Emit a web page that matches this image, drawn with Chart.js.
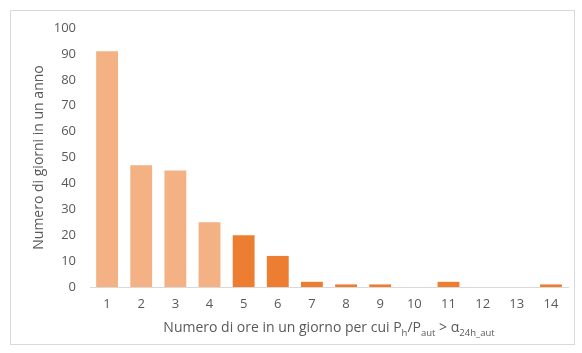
<!DOCTYPE html>
<html>
<head>
<meta charset="utf-8">
<script src="https://cdn.jsdelivr.net/npm/chart.js@4.4.0/dist/chart.umd.min.js"></script>
<style>
  body { margin: 0; background: #fff; }
  #wrap { width: 582px; height: 353px; position: relative; }
</style>
</head>
<body>
<div id="wrap"><canvas id="chart" width="582" height="353"></canvas></div>
<script>
// chart data
const categories = ['1', '2', '3', '4', '5', '6', '7', '8', '9', '10', '11', '12', '13', '14'];
const giorni = [91, 47, 45, 25, 20, 12, 2, 1, 1, 0, 2, 0, 0, 1];
const yTicks = [0, 10, 20, 30, 40, 50, 60, 70, 80, 90, 100];

const lightOrange = '#F4B183';
const darkOrange = '#ED7D31';
const textGray = '#595959';
const fontFamily = '"Open Sans", "Liberation Sans", sans-serif';

// first four bars are lighter
const barColors = categories.map((c, i) => i < 4 ? lightOrange : darkOrange);

// frame around the whole chart
const framePlugin = {
    id: 'frame',
    beforeDraw(chart) {
        const ctx = chart.ctx;
        ctx.save();
        ctx.strokeStyle = '#d9d9d9';
        ctx.lineWidth = 1;
        ctx.strokeRect(10.5, 10.5, 564, 334);
        ctx.restore();
    }
};

// x axis title with subscripts
const xTitlePlugin = {
    id: 'xTitle',
    afterDraw(chart) {
        const ctx = chart.ctx;
        const parts = [
            { t: 'Numero di ore in un giorno per cui P', sub: false },
            { t: 'h', sub: true },
            { t: '/P', sub: false },
            { t: 'aut', sub: true },
            { t: ' > \u03b1', sub: false },
            { t: '24h_aut', sub: true }
        ];
        const big = '14px ' + fontFamily;
        const small = '9.5px ' + fontFamily;
        ctx.save();
        ctx.fillStyle = textGray;
        ctx.textBaseline = 'alphabetic';
        let total = 0;
        parts.forEach(p => {
            ctx.font = p.sub ? small : big;
            total += ctx.measureText(p.t).width;
        });
        const area = chart.chartArea;
        let x = (area.left + area.right) / 2 - total / 2;
        const y = 332;
        parts.forEach(p => {
            ctx.font = p.sub ? small : big;
            ctx.fillText(p.t, x, p.sub ? y + 4 : y);
            x += ctx.measureText(p.t).width;
        });
        ctx.restore();
    }
};

const ctx = document.getElementById('chart').getContext('2d');
const chart = new Chart(ctx, {
    type: 'bar',
    data: {
        labels: categories,
        datasets: [{
            label: 'Numero di giorni',
            data: giorni,
            backgroundColor: barColors,
            borderWidth: 0,
            categoryPercentage: 1.0,
            barPercentage: 0.64
        }]
    },
    options: {
        responsive: false,
        animation: false,
        devicePixelRatio: 1,
        layout: { padding: { top: 28, right: 14, left: 0, bottom: 0 } },
        plugins: {
            legend: { display: false },
            tooltip: { enabled: false }
        },
        scales: {
            x: {
                grid: { display: false, drawTicks: false },
                border: { display: true, color: '#d9d9d9', width: 1 },
                ticks: {
                    color: textGray,
                    font: { family: fontFamily, size: 13 },
                    padding: 9
                },
                afterFit(scale) { scale.height = 66; }
            },
            y: {
                min: 0,
                max: 100,
                afterBuildTicks(scale) {
                    scale.ticks = yTicks.map(v => ({ value: v }));
                },
                grid: { display: false, drawTicks: false },
                border: { display: false },
                ticks: {
                    color: textGray,
                    font: { family: fontFamily, size: 13 },
                    padding: 14
                },
                title: {
                    display: true,
                    text: 'Numero di giorni in un anno',
                    color: textGray,
                    font: { family: fontFamily, size: 14 },
                    padding: { top: 31, bottom: 0 }
                },
                afterFit(scale) { scale.width = 90; }
            }
        }
    },
    plugins: [framePlugin, xTitlePlugin]
});
</script>
</body>
</html>
